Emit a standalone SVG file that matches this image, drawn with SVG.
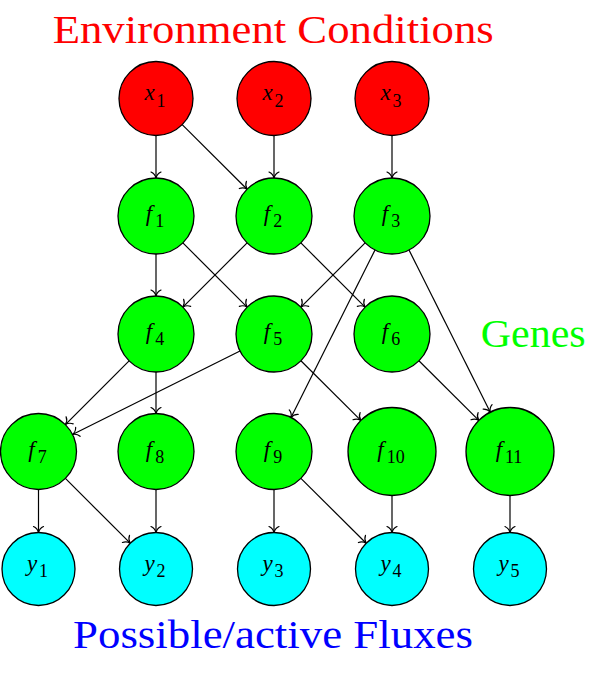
<svg xmlns="http://www.w3.org/2000/svg" width="600" height="674" viewBox="0 0 600 674">
<defs>
<marker id="arr" markerUnits="userSpaceOnUse" markerWidth="14" markerHeight="14" viewBox="-8 -7 10 14" refX="0" refY="0" orient="auto">
<path d="M-6,-5 C-4.8,-2.2 -2,-0.5 0,0 C-2,0.5 -4.8,2.2 -6,5" fill="none" stroke="#000" stroke-width="1.2" stroke-linecap="round"/>
</marker>
</defs>
<style>
.n circle{stroke:#000;stroke-width:1.3}
.env circle{fill:#ff0000}
.gene circle{fill:#00ff00}
.flux circle{fill:#00ffff}
#edges line{stroke:#000;stroke-width:1.2;fill:none;marker-end:url(#arr)}
</style>
<rect width="600" height="674" fill="#fff"/>
<text x="52.7" y="42.7" font-family="'Liberation Serif', serif" font-size="41" fill="#ff0000" textLength="441" lengthAdjust="spacingAndGlyphs">Environment Conditions</text>
<text x="480.7" y="347" font-family="'Liberation Serif', serif" font-size="41" fill="#00ff00" textLength="105" lengthAdjust="spacingAndGlyphs">Genes</text>
<text x="73" y="647.7" font-family="'Liberation Serif', serif" font-size="41" fill="#0000ff" textLength="400" lengthAdjust="spacingAndGlyphs">Possible/active Fluxes</text>
<g id="edges">
<line x1="156" y1="135.5" x2="156" y2="178"/>
<line x1="182.2" y1="124.6" x2="247.1" y2="189.2"/>
<line x1="274" y1="135.5" x2="274" y2="178"/>
<line x1="392" y1="135.5" x2="392" y2="178"/>
<line x1="156" y1="254" x2="156" y2="296"/>
<line x1="182.9" y1="242.9" x2="247.1" y2="307.1"/>
<line x1="247.1" y1="242.9" x2="182.9" y2="307.1"/>
<line x1="300.9" y1="242.9" x2="365.1" y2="307.1"/>
<line x1="365.1" y1="242.9" x2="300.9" y2="307.1"/>
<line x1="375" y1="250" x2="291" y2="417.5"/>
<line x1="409" y1="250" x2="490.3" y2="412.2"/>
<line x1="129.1" y1="360.9" x2="65.4" y2="424.6"/>
<line x1="156" y1="372" x2="156" y2="413.5"/>
<line x1="240" y1="351" x2="72.5" y2="434.5"/>
<line x1="300.9" y1="360.8" x2="360.8" y2="420.4"/>
<line x1="418.9" y1="360.8" x2="478.8" y2="420.4"/>
<line x1="38.5" y1="489.5" x2="38.5" y2="532.5"/>
<line x1="65.4" y1="478.4" x2="130.2" y2="543.2"/>
<line x1="156" y1="489.5" x2="156" y2="532.5"/>
<line x1="274" y1="489.5" x2="274" y2="532.5"/>
<line x1="300.9" y1="478.4" x2="366.2" y2="543.2"/>
<line x1="392" y1="495.5" x2="392" y2="532.5"/>
<line x1="510" y1="495.5" x2="510" y2="532.5"/>
</g>
<g id="x1" class="n env"><circle cx="156" cy="98.5" r="37"/><text x="155" y="100" font-family="'Liberation Serif', serif" font-size="23" font-style="italic" text-anchor="middle">x<tspan font-size="18" font-style="normal" dx="2" dy="7">1</tspan></text></g>
<g id="x2" class="n env"><circle cx="274" cy="98.5" r="37"/><text x="273" y="100" font-family="'Liberation Serif', serif" font-size="23" font-style="italic" text-anchor="middle">x<tspan font-size="18" font-style="normal" dx="2" dy="7">2</tspan></text></g>
<g id="x3" class="n env"><circle cx="392" cy="98.5" r="37"/><text x="391" y="100" font-family="'Liberation Serif', serif" font-size="23" font-style="italic" text-anchor="middle">x<tspan font-size="18" font-style="normal" dx="2" dy="7">3</tspan></text></g>
<g id="f1" class="n gene"><circle cx="156" cy="216" r="38"/><text x="155" y="221" font-family="'Liberation Serif', serif" font-size="23" font-style="italic" text-anchor="middle">f<tspan font-size="18" font-style="normal" dx="3" dy="6">1</tspan></text></g>
<g id="f2" class="n gene"><circle cx="274" cy="216" r="38"/><text x="273" y="221" font-family="'Liberation Serif', serif" font-size="23" font-style="italic" text-anchor="middle">f<tspan font-size="18" font-style="normal" dx="3" dy="6">2</tspan></text></g>
<g id="f3" class="n gene"><circle cx="392" cy="216" r="38"/><text x="391" y="221" font-family="'Liberation Serif', serif" font-size="23" font-style="italic" text-anchor="middle">f<tspan font-size="18" font-style="normal" dx="3" dy="6">3</tspan></text></g>
<g id="f4" class="n gene"><circle cx="156" cy="334" r="38"/><text x="155" y="339" font-family="'Liberation Serif', serif" font-size="23" font-style="italic" text-anchor="middle">f<tspan font-size="18" font-style="normal" dx="3" dy="6">4</tspan></text></g>
<g id="f5" class="n gene"><circle cx="274" cy="334" r="38"/><text x="273" y="339" font-family="'Liberation Serif', serif" font-size="23" font-style="italic" text-anchor="middle">f<tspan font-size="18" font-style="normal" dx="3" dy="6">5</tspan></text></g>
<g id="f6" class="n gene"><circle cx="392" cy="334" r="38"/><text x="391" y="339" font-family="'Liberation Serif', serif" font-size="23" font-style="italic" text-anchor="middle">f<tspan font-size="18" font-style="normal" dx="3" dy="6">6</tspan></text></g>
<g id="f7" class="n gene"><circle cx="38.5" cy="451.5" r="38"/><text x="37.5" y="456.5" font-family="'Liberation Serif', serif" font-size="23" font-style="italic" text-anchor="middle">f<tspan font-size="18" font-style="normal" dx="3" dy="6">7</tspan></text></g>
<g id="f8" class="n gene"><circle cx="156" cy="451.5" r="38"/><text x="155" y="456.5" font-family="'Liberation Serif', serif" font-size="23" font-style="italic" text-anchor="middle">f<tspan font-size="18" font-style="normal" dx="3" dy="6">8</tspan></text></g>
<g id="f9" class="n gene"><circle cx="274" cy="451.5" r="38"/><text x="273" y="456.5" font-family="'Liberation Serif', serif" font-size="23" font-style="italic" text-anchor="middle">f<tspan font-size="18" font-style="normal" dx="3" dy="6">9</tspan></text></g>
<g id="f10" class="n gene"><circle cx="392" cy="451.5" r="44"/><text x="391" y="456.5" font-family="'Liberation Serif', serif" font-size="23" font-style="italic" text-anchor="middle">f<tspan font-size="18" font-style="normal" dx="3" dy="6">10</tspan></text></g>
<g id="f11" class="n gene"><circle cx="510" cy="451.5" r="44"/><text x="509" y="456.5" font-family="'Liberation Serif', serif" font-size="23" font-style="italic" text-anchor="middle">f<tspan font-size="18" font-style="normal" dx="3" dy="6">11</tspan></text></g>
<g id="y1" class="n flux"><circle cx="38.5" cy="569" r="36.5"/><text x="37.5" y="571" font-family="'Liberation Serif', serif" font-size="23" font-style="italic" text-anchor="middle">y<tspan font-size="18" font-style="normal" dx="2" dy="6">1</tspan></text></g>
<g id="y2" class="n flux"><circle cx="156" cy="569" r="36.5"/><text x="155" y="571" font-family="'Liberation Serif', serif" font-size="23" font-style="italic" text-anchor="middle">y<tspan font-size="18" font-style="normal" dx="2" dy="6">2</tspan></text></g>
<g id="y3" class="n flux"><circle cx="274" cy="569" r="36.5"/><text x="273" y="571" font-family="'Liberation Serif', serif" font-size="23" font-style="italic" text-anchor="middle">y<tspan font-size="18" font-style="normal" dx="2" dy="6">3</tspan></text></g>
<g id="y4" class="n flux"><circle cx="392" cy="569" r="36.5"/><text x="391" y="571" font-family="'Liberation Serif', serif" font-size="23" font-style="italic" text-anchor="middle">y<tspan font-size="18" font-style="normal" dx="2" dy="6">4</tspan></text></g>
<g id="y5" class="n flux"><circle cx="510" cy="569" r="36.5"/><text x="509" y="571" font-family="'Liberation Serif', serif" font-size="23" font-style="italic" text-anchor="middle">y<tspan font-size="18" font-style="normal" dx="2" dy="6">5</tspan></text></g>
</svg>
